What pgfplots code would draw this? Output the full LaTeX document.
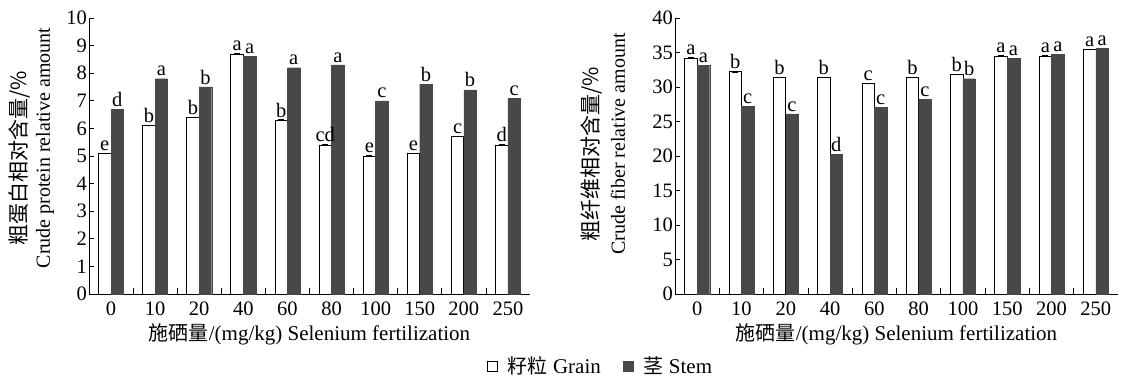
\documentclass[border=0pt]{standalone}
\usepackage{pgfplots}
\pgfplotsset{compat=1.18}
\usepackage{pgfplotstable}
\usepackage{fontspec}
\setmainfont{Liberation Serif}
\newfontfamily\cjk{Noto Sans CJK SC}
\definecolor{stemgray}{HTML}{484848}

\pgfplotstableread{
x grain gl stem sl
0 5.1 e 6.7 d
1 6.1 b 7.8 a
2 6.4 b 7.5 b
3 8.7 a 8.6 a
4 6.3 b 8.2 a
5 5.4 cd 8.3 a
6 5.0 e 7.0 c
7 5.1 e 7.6 b
8 5.7 c 7.4 b
9 5.4 d 7.1 c
}\protein

\pgfplotstableread{
x grain gl stem sl
0 34.2 a 33.1 a
1 32.2 b 27.2 c
2 31.4 b 26.1 c
3 31.4 b 20.2 d
4 30.5 c 27.1 c
5 31.4 b 28.2 c
6 31.8 b 31.2 b
7 34.5 a 34.2 a
8 34.5 a 34.7 a
9 35.4 a 35.6 a
}\fiber

\pgfplotsset{
  mybars/.style={
    scale only axis,
    height=276pt,
    ybar=0pt,
    bar width=12.5pt,
    axis x line*=bottom,
    axis y line*=left,
    axis line style={black, line width=0.7pt},
    xmin=-0.5, xmax=9.5,
    ymin=0,
    xtick={0,...,9},
    xticklabels={0,10,20,40,60,80,100,150,200,250},
    major x tick style={draw=none},
    minor xtick={0.5,1.5,...,8.5},
    minor tick length=6pt,
    minor x tick style={black, line width=0.7pt},
    tick align=inside,
    major tick length=5pt,
    y tick style={black, line width=0.7pt},
    tick label style={font=\fontsize{20.5}{20.5}\selectfont},
    yticklabel style={inner sep=2pt},
    xticklabel style={inner sep=3pt, yshift=-5pt},
    /pgf/number format/assume math mode=true,
    xlabel style={font=\fontsize{21}{21}\selectfont, anchor=center, at={(axis description cs:0.5,-0.145)}},
    xlabel={{\cjk\fontsize{20}{20}\selectfont 施硒量}/(mg/kg) Selenium fertilization},
    nodes near coords={\pgfplotspointmeta},
    point meta=explicit symbolic,
    every node near coord/.append style={font=\fontsize{20.5}{20.5}\selectfont, anchor=south, inner sep=1pt, yshift=1.5pt},
    clip=false,
  },
  grainstyle/.style={draw=black, fill=white, line width=0.7pt,
    error bars/.cd, y dir=plus, y fixed=0.0001,
    error bar style={black, line width=1.4pt},
    error mark options={rotate=90, mark size=3pt, black, line width=1.4pt}},
  stemstyle/.style={draw=stemgray, fill=stemgray, line width=0.3pt},
}

\begin{document}
\begin{tikzpicture}
\path[use as bounding box] (-89pt,-85pt) rectangle (1035pt,294pt);

\begin{axis}[mybars,
  at={(0pt,0pt)}, anchor=south west,
  width=441pt,
  ymax=10, ytick={0,1,...,10},
  legend columns=2,
  legend style={draw=none, fill=none, at={(axis description cs:1.16,-0.261)}, anchor=center,
    font=\fontsize{21}{21}\selectfont,
    /tikz/every odd column/.append style={column sep=8pt},
    /tikz/every even column/.append style={column sep=20pt}},
  legend image code/.code={\draw[#1, line width=0.8pt] (0pt,-5pt) rectangle (10pt,5pt);},
]
\addplot[grainstyle] table[x=x, y=grain, meta=gl] {\protein};
\addlegendentry{{\cjk\fontsize{20}{20}\selectfont 籽粒} Grain}
\addplot[stemstyle] table[x=x, y=stem, meta=sl] {\protein};
\addlegendentry{{\cjk\fontsize{20}{20}\selectfont 茎} Stem}
\end{axis}

\begin{axis}[mybars,
  at={(586pt,0pt)}, anchor=south west,
  width=443pt,
  ymax=40, ytick={0,5,...,40},
]
\addplot[grainstyle] table[x=x, y=grain, meta=gl] {\fiber};
\addplot[stemstyle] table[x=x, y=stem, meta=sl] {\fiber};
\end{axis}

\node[rotate=90, font=\fontsize{21}{21}\selectfont] at (-69pt,136pt) {\cjk 粗蛋白相对含量/\%};
\node[rotate=90, font=\fontsize{20}{20}\selectfont] at (-44pt,146pt) {Crude protein relative amount};
\node[rotate=90, font=\fontsize{21}{21}\selectfont] at (503pt,140pt) {\cjk 粗纤维相对含量/\%};
\node[rotate=90, font=\fontsize{20}{20}\selectfont] at (529pt,150pt) {Crude fiber relative amount};
\end{tikzpicture}
\end{document}
